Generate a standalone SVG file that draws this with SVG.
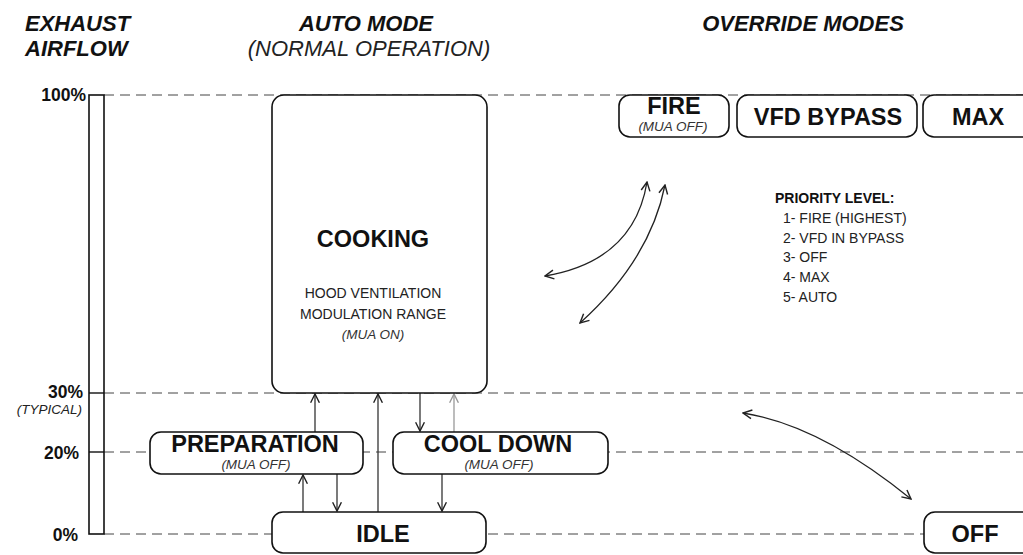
<svg xmlns="http://www.w3.org/2000/svg" width="1023" height="555" viewBox="0 0 1023 555">
  <style>
    text { font-family: "Liberation Sans", Arial, sans-serif; fill: #111; }
    .hdr { font-size: 22px; font-weight: bold; font-style: italic; }
    .hdr-sub { font-size: 22px; font-style: italic; fill: #222; }
    .pct { font-size: 17.5px; font-weight: bold; }
    .typ { font-size: 13.5px; font-style: italic; fill: #222; }
    .title { font-size: 23.5px; font-weight: bold; text-anchor: middle; }
    .note { font-size: 13.5px; font-style: italic; fill: #333; text-anchor: middle; }
    .body { font-size: 14px; fill: #222; text-anchor: middle; }
    .prio-h { font-size: 14px; font-weight: bold; }
    .prio { font-size: 14px; fill: #222; }
    .box { fill: #fff; stroke: #111; stroke-width: 1.6; }
    .grid { stroke: #444; stroke-width: 1; stroke-dasharray: 10 6; fill: none; }
    .link { stroke: #333; stroke-width: 1.3; fill: none; marker-end: url(#head); }
    .link-light { stroke: #999; stroke-width: 1.3; fill: none; marker-end: url(#head-light); }
    .swap { stroke: #222; stroke-width: 1.3; fill: none; marker-start: url(#head); marker-end: url(#head); }
  </style>
  <defs>
    <marker id="head" viewBox="0 0 10 10" refX="9" refY="5" markerWidth="11" markerHeight="11" markerUnits="userSpaceOnUse" orient="auto-start-reverse">
      <path d="M1,1 L9,5 L1,9" fill="none" stroke="#222" stroke-width="1.3"/>
    </marker>
    <marker id="head-light" viewBox="0 0 10 10" refX="9" refY="5" markerWidth="11" markerHeight="11" markerUnits="userSpaceOnUse" orient="auto">
      <path d="M1,1 L9,5 L1,9" fill="none" stroke="#999" stroke-width="1.3"/>
    </marker>
  </defs>

  <rect width="1023" height="555" fill="#fff"/>

  <!-- column headings -->
  <g id="headings">
    <text class="hdr" x="25" y="31">EXHAUST</text>
    <text class="hdr" x="25" y="56">AIRFLOW</text>
    <text class="hdr" x="366" y="31" text-anchor="middle">AUTO MODE</text>
    <text class="hdr-sub" x="369" y="56" text-anchor="middle">(NORMAL OPERATION)</text>
    <text class="hdr" x="803" y="31" text-anchor="middle">OVERRIDE MODES</text>
  </g>

  <!-- airflow scale -->
  <g id="scale">
    <line class="grid" x1="104" y1="95" x2="1023" y2="95"/>
    <line class="grid" x1="104" y1="393" x2="1023" y2="393"/>
    <line class="grid" x1="104" y1="452" x2="1023" y2="452"/>
    <line class="grid" x1="104" y1="534" x2="1023" y2="534"/>
    <rect x="89" y="95" width="15" height="439" fill="#fff" stroke="#111" stroke-width="1.6"/>
    <line x1="89" y1="393" x2="104" y2="393" stroke="#111" stroke-width="1.4"/>
    <line x1="89" y1="452" x2="104" y2="452" stroke="#111" stroke-width="1.4"/>
    <text class="pct" x="86" y="101" text-anchor="end">100%</text>
    <text class="pct" x="83" y="398" text-anchor="end">30%</text>
    <text class="typ" x="82" y="414" text-anchor="end">(TYPICAL)</text>
    <text class="pct" x="79" y="459" text-anchor="end">20%</text>
    <text class="pct" x="78" y="541" text-anchor="end">0%</text>
  </g>

  <!-- connectors -->
  <g id="connectors">
    <line class="link" x1="315" y1="432" x2="315" y2="394"/>
    <line class="link" x1="378" y1="512" x2="378" y2="394"/>
    <line class="link" x1="420" y1="393" x2="420" y2="431"/>
    <line class="link-light" x1="454" y1="432" x2="454" y2="394"/>
    <line class="link" x1="303" y1="512" x2="303" y2="475"/>
    <line class="link" x1="337" y1="474" x2="337" y2="511"/>
    <line class="link" x1="442" y1="474" x2="442" y2="511"/>
    <path class="swap" d="M545,276 Q634,261 647,182"/>
    <path class="swap" d="M580,323 Q650,260 665,185"/>
    <path class="swap" d="M743,413 Q820,425 911,499"/>
  </g>

  <!-- auto mode states -->
  <g id="cooking">
    <rect class="box" x="272" y="95" width="215" height="298" rx="12"/>
    <text class="title" x="373" y="247">COOKING</text>
    <text class="body" x="373" y="298">HOOD VENTILATION</text>
    <text class="body" x="373" y="319">MODULATION RANGE</text>
    <text class="note" x="373" y="339">(MUA ON)</text>
  </g>
  <g id="preparation">
    <rect class="box" x="150" y="432" width="213" height="42" rx="11"/>
    <text class="title" x="255" y="452">PREPARATION</text>
    <text class="note" x="256" y="469">(MUA OFF)</text>
  </g>
  <g id="cool-down">
    <rect class="box" x="393" y="432" width="215" height="42" rx="11"/>
    <text class="title" x="498" y="452">COOL DOWN</text>
    <text class="note" x="499" y="469">(MUA OFF)</text>
  </g>
  <g id="idle">
    <rect class="box" x="272" y="512" width="214" height="41" rx="11"/>
    <text class="title" x="383" y="542">IDLE</text>
  </g>

  <!-- override states -->
  <g id="fire">
    <rect class="box" x="619" y="95" width="110" height="42" rx="11"/>
    <text class="title" x="674" y="114">FIRE</text>
    <text class="note" x="673" y="131">(MUA OFF)</text>
  </g>
  <g id="vfd-bypass">
    <rect class="box" x="737" y="95" width="180" height="42" rx="11"/>
    <text class="title" x="828" y="125">VFD BYPASS</text>
  </g>
  <g id="max">
    <rect class="box" x="923" y="95" width="120" height="42" rx="11"/>
    <text class="title" x="978" y="125">MAX</text>
  </g>
  <g id="off">
    <rect class="box" x="924" y="512" width="120" height="41" rx="11"/>
    <text class="title" x="975" y="542">OFF</text>
  </g>

  <!-- priority list -->
  <g id="priority">
    <text class="prio-h" x="775" y="203">PRIORITY LEVEL:</text>
    <text class="prio" x="783" y="223">1- FIRE (HIGHEST)</text>
    <text class="prio" x="783" y="243">2- VFD IN BYPASS</text>
    <text class="prio" x="783" y="262">3- OFF</text>
    <text class="prio" x="783" y="282">4- MAX</text>
    <text class="prio" x="783" y="302">5- AUTO</text>
  </g>
</svg>
